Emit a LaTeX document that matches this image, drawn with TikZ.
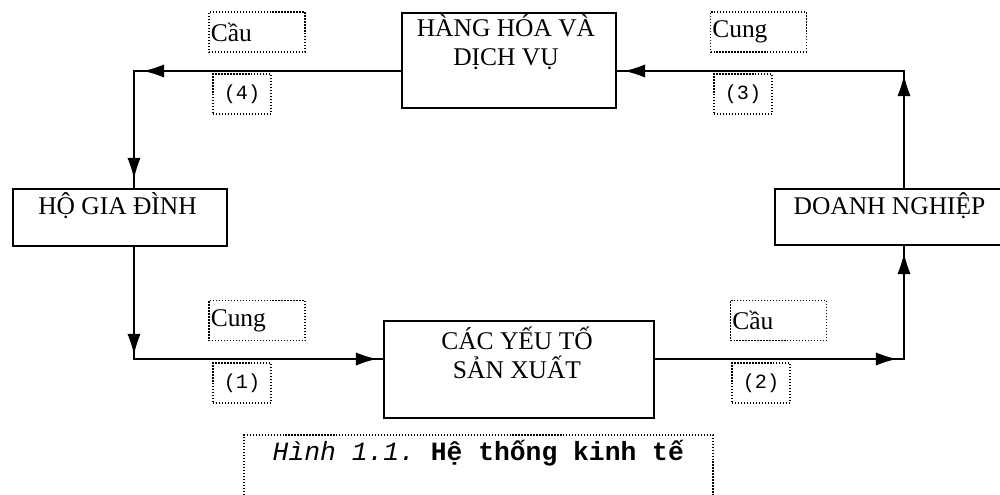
\documentclass[tikz,border=0pt]{standalone}
\usepackage{fontspec}
\setmainfont{Liberation Serif}
\setmonofont{Liberation Mono}
\usetikzlibrary{arrows.meta}

\begin{document}
\begin{tikzpicture}[x=0.02cm, y=-0.02cm, line width=0.8pt,
  main box/.style={draw, line width=1.1pt, inner sep=0pt},
  box text/.style={anchor=base, align=center, inner sep=0pt, font=\fontsize{14.5}{16}\selectfont},
  label box/.style={draw, densely dotted, line width=0.7pt, minimum height=0.8cm, inner xsep=1pt, text width=1.85cm, align=left, font=\fontsize{14.5}{16}\selectfont},
  num box/.style={draw, densely dotted, line width=0.7pt, minimum width=1.16cm, minimum height=0.8cm, inner sep=0pt, font=\fontsize{11.5}{12}\ttfamily},
  flow/.style={-{Latex[length=12pt,width=7.5pt]}}]
\useasboundingbox (0,0) rectangle (1000,494);
% boxes
\node[main box, minimum width=4.28cm, minimum height=1.9cm] (hh) at (509,60.5) {};
\node[main box, minimum width=4.28cm, minimum height=1.14cm] (hgd) at (120,217.5) {};
\node[main box, minimum width=4.6cm, minimum height=1.12cm] (dn) at (890,217) {};
\node[main box, minimum width=5.4cm, minimum height=1.94cm] (sx) at (519,369.5) {};
\node[box text] (hh text) at (506,65) {HÀNG HÓA VÀ\\DỊCH VỤ};
\node[box text] (hgd text) at (117.5,214) {HỘ GIA ĐÌNH};
\node[box text] (dn text) at (889.5,214) {DOANH NGHIỆP};
\node[box text] (sx text) at (517,378) {CÁC YẾU TỐ\\SẢN XUẤT};
% corners
\coordinate (c1) at (134,359);
\coordinate (c2) at (904,359);
\coordinate (c3) at (904,71);
\coordinate (c4) at (134,71);
% labels
\node[label box] (cau4) at (257,32) {Cầu};
\node[label box] (cung3) at (758.5,32) {Cung};
\node[label box] (cung1) at (257,320.5) {Cung};
\node[label box] (cau2) at (778.5,320.5) {Cầu};
\node[num box] (n4) at (242,94) {(4)};
\node[num box] (n3) at (743,94) {(3)};
\node[num box] (n1) at (242,383) {(1)};
\node[num box] (n2) at (761,383) {(2)};
% flows
\draw (hh.west |- c4) -- (c4) -- (hgd.north -| c4);
\draw (hgd.south -| c1) -- (c1) -- (sx.west |- c1);
\draw (sx.east |- c2) -- (c2) -- (dn.south -| c2);
\draw (dn.north -| c3) -- (c3) -- (hh.east |- c3);
\path
(hh.west |- c4) edge[flow, shorten >=0.18cm] (c4)
(c4) edge[flow, shorten >=0.18cm] (hgd.north -| c4)
(hgd.south -| c1) edge[flow, shorten >=0.08cm] (c1)
(c1) edge[flow, shorten >=0.12cm] (sx.west |- c1)
(sx.east |- c2) edge[flow, shorten >=0.14cm] (c2)
(c2) edge[flow, shorten >=0.14cm] (dn.south -| c2)
(dn.north -| c3) edge[flow, shorten >=0.08cm] (c3)
(c3) edge[flow, shorten >=0.14cm] (hh.east |- c3);
% caption
\draw[densely dotted, line width=0.7pt] (244,510) -- (244,435) -- (713,435) -- (713,510);
\node[anchor=base west, inner sep=0pt, font=\fontsize{15}{16}\ttfamily] (cap) at (272,460) {\textit{Hình 1.1.} \textbf{Hệ thống kinh tế}};
\end{tikzpicture}
\end{document}
